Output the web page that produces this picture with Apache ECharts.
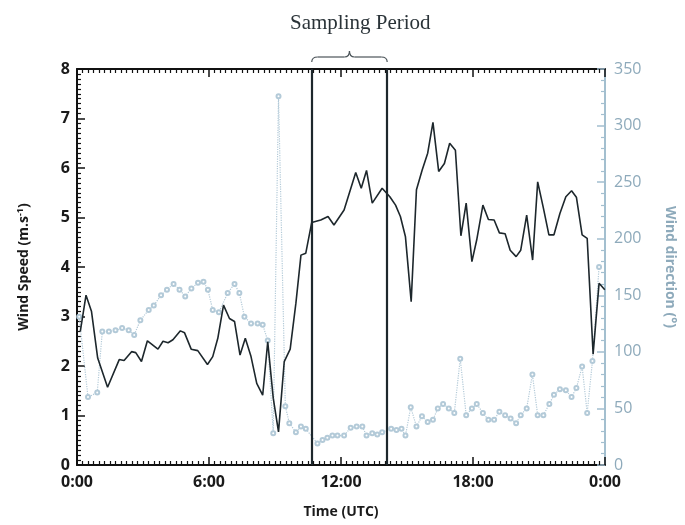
<!DOCTYPE html>
<html>
<head>
<meta charset="utf-8">
<script src="https://cdn.jsdelivr.net/npm/echarts@6/dist/echarts.min.js"></script>
<style>
html, body { margin: 0; padding: 0; background: #fff; }
#main { width: 685px; height: 525px; }
</style>
</head>
<body>
<div id="main"></div>
<script>
// wind speed (m/s)
var speedHours = [0.15, 0.41, 0.66, 0.94, 1.39, 1.92, 2.14, 2.48, 2.67, 2.93, 3.2, 3.68, 3.91, 4.14, 4.36, 4.7, 4.89, 5.19, 5.49, 5.93,
  6.17, 6.4, 6.66, 6.93, 7.16, 7.41, 7.65, 7.91, 8.17, 8.44, 8.67, 8.92, 9.16, 9.42, 9.69, 9.95, 10.18, 10.4, 10.67, 11.08,
  11.41, 11.68, 12.14, 12.67, 12.92, 13.16, 13.42, 13.87, 14.22, 14.48, 14.7, 14.93, 15.19, 15.43, 15.69, 15.94, 16.18, 16.44, 16.7, 16.94,
  17.2, 17.45, 17.69, 17.95, 18.17, 18.45, 18.7, 18.96, 19.2, 19.46, 19.69, 19.96, 20.17, 20.44, 20.71, 20.94, 21.2, 21.45, 21.68, 21.95,
  22.22, 22.48, 22.7, 22.96, 23.19, 23.46, 23.73, 23.99];
var speedValues = [2.7, 3.43, 3.10, 2.16, 1.57, 2.13, 2.11, 2.29, 2.27, 2.09, 2.51, 2.34, 2.5, 2.47, 2.53, 2.71, 2.67, 2.34, 2.31, 2.03,
  2.19, 2.56, 3.23, 2.96, 2.9, 2.22, 2.56, 2.19, 1.65, 1.41, 2.49, 1.35, 0.67, 2.09, 2.34, 3.27, 4.24, 4.28, 4.9, 4.95,
  5.02, 4.85, 5.15, 5.91, 5.59, 5.95, 5.29, 5.59, 5.42, 5.25, 5.02, 4.61, 3.30, 5.56, 5.96, 6.30, 6.92, 5.93, 6.09, 6.50,
  6.36, 4.63, 5.29, 4.11, 4.55, 5.25, 4.96, 4.95, 4.69, 4.67, 4.34, 4.21, 4.34, 5.05, 4.14, 5.72, 5.19, 4.65, 4.65, 5.08,
  5.42, 5.54, 5.41, 4.65, 4.58, 2.24, 3.67, 3.54];

// wind direction (deg)
var dirHours = [0.1, 0.5, 0.92, 1.15, 1.45, 1.75, 2.05, 2.35, 2.6, 2.88, 3.26, 3.49, 3.82, 4.09, 4.39, 4.66, 4.92, 5.2, 5.5, 5.75,
  5.95, 6.17, 6.45, 6.85, 7.16, 7.38, 7.61, 7.91, 8.21, 8.44, 8.67, 8.92, 9.16, 9.47, 9.65, 9.95, 10.18, 10.4, 10.93, 11.16,
  11.38, 11.61, 11.84, 12.14, 12.44, 12.71, 12.97, 13.16, 13.42, 13.65, 13.87, 14.28, 14.52, 14.75, 14.93, 15.17, 15.43, 15.68, 15.94, 16.18,
  16.4, 16.64, 16.9, 17.15, 17.42, 17.69, 17.95, 18.17, 18.45, 18.7, 18.96, 19.2, 19.46, 19.71, 19.96, 20.17, 20.44, 20.7, 20.94, 21.2,
  21.47, 21.68, 21.95, 22.22, 22.48, 22.7, 22.96, 23.19, 23.43, 23.73];
var dirValues = [131, 60, 64, 118, 118, 119, 121, 119, 115, 128, 137, 141, 150, 155, 160, 155, 149, 156, 161, 162,
  155, 137, 135, 152, 160, 152, 131, 125, 125, 124, 110, 28, 326, 52, 37, 29, 34, 32, 19, 22,
  24, 26, 26, 26, 33, 34, 34, 26, 28, 27, 29, 32, 31, 32, 26, 51, 34, 43, 38, 40,
  50, 54, 50, 46, 94, 44, 50, 54, 46, 40, 40, 47, 44, 41, 37, 44, 50, 80, 44, 44,
  54, 62, 67, 66, 60, 68, 87, 46, 92, 175];

var samplingPeriod = [10.67, 14.1];
var xTickLabels = ['0:00', '6:00', '12:00', '18:00', '0:00'];

function pairs(xs, ys) {
  return xs.map(function (x, i) { return [x, ys[i]]; });
}

var dom = document.getElementById('main');
var myChart = echarts.init(dom);
var blue = '#b3cad8';
var blueAxis = '#a3bfcf';
var blueText = '#8eaabb';
var font = 'Open Sans';

var option = {
  backgroundColor: '#fff',
  animation: false,
  title: {
    text: 'Sampling Period',
    left: 285, top: 8,
    textStyle: { fontFamily: 'Liberation Serif', fontSize: 21, fontWeight: 'normal', color: '#2a3338' }
  },
  grid: { left: 77, right: 78, top: 69, bottom: 60 },
  xAxis: [{
    type: 'value', min: 0, max: 24, interval: 6, position: 'bottom',
    name: 'Time (UTC)', nameLocation: 'middle', nameGap: 40,
    nameTextStyle: { fontFamily: font, fontWeight: 'bold', fontSize: 14, color: '#1a1a1a' },
    axisLine: { onZero: false, lineStyle: { color: '#111', width: 2 } },
    axisTick: { inside: true, length: 8, lineStyle: { color: '#111', width: 1.5 } },
    minorTick: { show: true, splitNumber: 24, length: 4, lineStyle: { color: '#111', width: 1.2 } },
    splitLine: { show: false },
    axisLabel: {
      margin: 9, fontFamily: font, fontWeight: 'bold', fontSize: 16, color: '#1a1a1a',
      showMinLabel: true, showMaxLabel: true,
      formatter: function (v) { return xTickLabels[Math.round(v / 6)]; }
    }
  }, {
    type: 'value', min: 0, max: 24, interval: 6, position: 'top',
    axisLine: { onZero: false, lineStyle: { color: '#111', width: 2 } },
    axisTick: { inside: true, length: 8, lineStyle: { color: '#111', width: 1.5 } },
    minorTick: { show: true, splitNumber: 24, length: 4, lineStyle: { color: '#111', width: 1.2 } },
    splitLine: { show: false },
    axisLabel: { show: false }
  }],
  yAxis: [{
    type: 'value', min: 0, max: 8, interval: 1, position: 'left',
    name: '{a|Wind Speed (m.s}{s|-1}{a|)}', nameLocation: 'middle', nameGap: 44, nameRotate: 90,
    nameTextStyle: {
      rich: {
        a: { fontFamily: font, fontWeight: 'bold', fontSize: 14, color: '#1a1a1a' },
        s: { fontFamily: font, fontWeight: 'bold', fontSize: 9, color: '#1a1a1a', verticalAlign: 'top', padding: [0, 0, 8, 0] }
      }
    },
    axisLine: { show: true, onZero: false, lineStyle: { color: '#111', width: 2 } },
    axisTick: { inside: true, length: 8, lineStyle: { color: '#111', width: 1.5 } },
    minorTick: { show: true, splitNumber: 10, length: 4, lineStyle: { color: '#111', width: 1.2 } },
    splitLine: { show: false },
    axisLabel: { margin: 7, fontFamily: font, fontWeight: 'bold', fontSize: 16, color: '#1a1a1a' }
  }, {
    type: 'value', min: 0, max: 350, interval: 50, position: 'right',
    name: 'Wind direction (°)', nameLocation: 'middle', nameGap: 58, nameRotate: -90,
    nameTextStyle: { fontFamily: font, fontWeight: 'bold', fontSize: 14, color: blueText },
    axisLine: { show: true, onZero: false, lineStyle: { color: blueAxis, width: 2 } },
    axisTick: { inside: true, length: 8, lineStyle: { color: blueAxis, width: 1.5 } },
    minorTick: { show: true, splitNumber: 5, length: 4, lineStyle: { color: blueAxis, width: 1.2 } },
    splitLine: { show: false },
    axisLabel: { margin: 9, fontFamily: font, fontSize: 16, color: blueText }
  }],
  series: [{
    name: 'Wind direction', type: 'line', yAxisIndex: 1,
    data: pairs(dirHours, dirValues),
    symbol: 'emptyCircle', symbolSize: 4,
    itemStyle: { color: blue, borderColor: blue, borderWidth: 1 },
    lineStyle: { color: blue, width: 1.2, type: 'dotted' },
    z: 2
  }, {
    name: 'Wind speed', type: 'line', yAxisIndex: 0,
    data: pairs(speedHours, speedValues),
    symbol: 'none',
    lineStyle: { color: '#1d272c', width: 1.6 },
    z: 3,
    markLine: {
      silent: true, symbol: 'none', label: { show: false },
      lineStyle: { color: '#1d272c', width: 2.2, type: 'solid' },
      data: samplingPeriod.map(function (t) { return { xAxis: t }; })
    }
  }]
};

myChart.setOption(option, true);

// curly brace over the sampling period
var x1 = myChart.convertToPixel({ xAxisIndex: 0 }, samplingPeriod[0]);
var x2 = myChart.convertToPixel({ xAxisIndex: 0 }, samplingPeriod[1]);
var xm = (x1 + x2) / 2, y0 = 57;
var braceStyle = { fill: null, stroke: '#4a5358', lineWidth: 1.2 };
myChart.setOption({
  graphic: [
    { type: 'bezierCurve', shape: { x1: x1, y1: y0 + 5, x2: x1 + 6, y2: y0, cpx1: x1, cpy1: y0 }, style: braceStyle },
    { type: 'line', shape: { x1: x1 + 6, y1: y0, x2: xm - 5, y2: y0 }, style: braceStyle },
    { type: 'bezierCurve', shape: { x1: xm - 5, y1: y0, x2: xm, y2: y0 - 6, cpx1: xm, cpy1: y0 }, style: braceStyle },
    { type: 'bezierCurve', shape: { x1: xm, y1: y0 - 6, x2: xm + 5, y2: y0, cpx1: xm, cpy1: y0 }, style: braceStyle },
    { type: 'line', shape: { x1: xm + 5, y1: y0, x2: x2 - 6, y2: y0 }, style: braceStyle },
    { type: 'bezierCurve', shape: { x1: x2 - 6, y1: y0, x2: x2, y2: y0 + 5, cpx1: x2, cpy1: y0 }, style: braceStyle }
  ]
});
</script>
</body>
</html>
